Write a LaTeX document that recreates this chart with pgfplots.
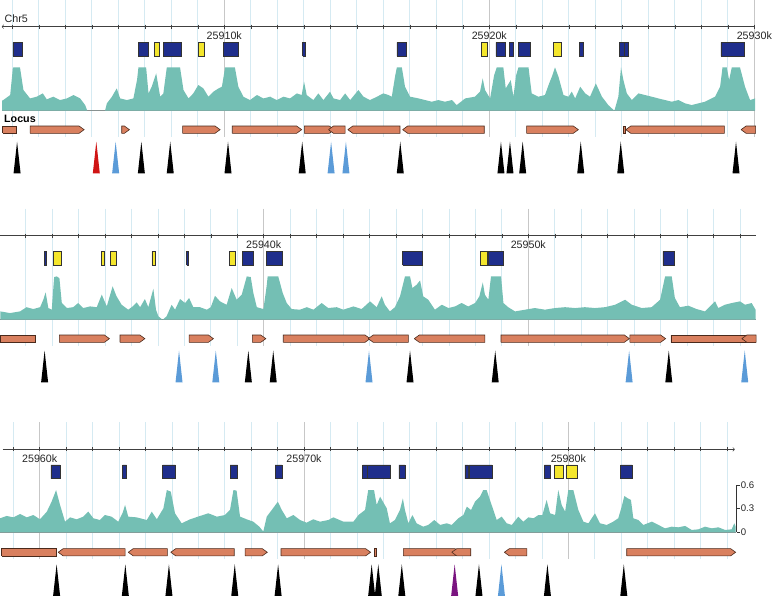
\documentclass[border=0pt]{standalone}
\usepackage{fontspec}
\setmainfont{Liberation Sans}
\usepackage{pgfplots}
\usepackage{pgfplotstable}
\pgfplotsset{compat=1.18}

\definecolor{sig}{HTML}{74BFB4}
\definecolor{boxblue}{HTML}{1F2E8C}
\definecolor{boxyel}{HTML}{F4E62C}
\definecolor{genefill}{HTML}{D9805F}
\definecolor{geneline}{HTML}{4A2A1C}
\definecolor{gridblue}{HTML}{D5EAF2}
\definecolor{tblue}{HTML}{5B9BD8}
\definecolor{tred}{HTML}{D01414}
\definecolor{tpurple}{HTML}{7A1480}

% x is kb past 25,900 kb on Chr5; y is in pixels below each row's ruler
\pgfdeclareplotmark{tri}{%
  \pgfpathmoveto{\pgfqpoint{-3.5pt}{0pt}}%
  \pgfpathlineto{\pgfqpoint{0pt}{31.6pt}}%
  \pgfpathlineto{\pgfqpoint{3.5pt}{0pt}}%
  \pgfpathclose
  \pgfusepathqfill}

\pgfplotsset{
  track/.style={
    scale only axis, y=1pt, y dir=reverse,
    ymin=-27, ymax=110, clip=false,
    axis x line=middle, axis y line=none, ytick=\empty,
    tick align=center, major tick length=4pt, minor tick length=4pt,
    every tick/.style={black!75, line width=0.5pt},
    axis line style={black!75, line width=0.6pt},
    xmajorgrids, xminorgrids,
    major grid style={black!22, line width=0.7pt},
    minor grid style={gridblue, line width=0.7pt},
    xticklabel style={font=\fontsize{10.7}{12}\selectfont, text=black!85},
  },
  tris/.style={only marks, mark=tri, color=#1, mark options={fill=#1}},
}

% unit shapes
\pgfplotstableread{
fx fy
0 0
1 0
1 1
0 1
0 0
}\boxshape
\pgfplotstableread{
fx gx fy
0 0 0
1 0 0
1 0 1
0 0 1
0 0 0
}\geneshapen
\pgfplotstableread{
fx gx fy
0 0 0
1 -1 0
1 0 0.5
1 -1 1
0 0 1
0 0 0
}\geneshaper
\pgfplotstableread{
fx gx fy
0 0 0.5
0 1 0
1 0 0
1 0 1
0 1 1
0 0 0.5
}\geneshapel

\newcommand\drawboxes[2]{%
  \pgfplotstablegetrowsof{#1}%
  \pgfmathtruncatemacro\gN{\pgfplotsretval-1}%
  \pgfplotsforeachungrouped \gI in {0,...,\gN}{%
    \pgfplotstablegetelem{\gI}{s}\of{#1}\let\gS\pgfplotsretval
    \pgfplotstablegetelem{\gI}{len}\of{#1}\let\gL\pgfplotsretval
    \edef\gTmp{\noexpand\addplot[fill=#2, draw=black!80, line width=0.5pt]
      table[x expr={\gS+\gL*\noexpand\thisrow{fx}}, y expr={29.3-13.7*\noexpand\thisrow{fy}}] \noexpand\boxshape;}%
    \gTmp}}
\newcommand\drawgenes[1]{%
  \pgfplotstablegetrowsof{#1}%
  \pgfmathtruncatemacro\gN{\pgfplotsretval-1}%
  \pgfplotsforeachungrouped \gI in {0,...,\gN}{%
    \pgfplotstablegetelem{\gI}{s}\of{#1}\let\gS\pgfplotsretval
    \pgfplotstablegetelem{\gI}{len}\of{#1}\let\gL\pgfplotsretval
    \pgfplotstablegetelem{\gI}{d}\of{#1}\let\gD\pgfplotsretval
    \pgfmathsetmacro\gT{min(0.19,\gL)}%
    \edef\gTmp{\noexpand\addplot[fill=genefill, draw=geneline, line width=0.6pt]
      table[x expr={\gS+\gL*\noexpand\thisrow{fx}+\gT*\noexpand\thisrow{gx}}, y expr={106.6-7.3*\noexpand\thisrow{fy}}] \expandafter\noexpand\csname geneshape\gD\endcsname;}%
    \gTmp}}

% ---------------- signal (value 0..0.6) ----------------
\pgfplotstableread{
kb v
1.62 0
1.62 0.13
1.66 0.136
1.92 0.2
2.02 0.54
2.04 0.553
2.29 0.553
2.42 0.264
2.67 0.157
2.92 0.179
3.15 0.221
3.30 0.145
3.55 0.179
3.80 0.136
4.06 0.157
4.31 0.2
4.56 0.157
4.75 0.072
4.83 0
5.50 0
5.57 0.094
5.76 0.179
5.94 0.285
6.07 0.157
6.32 0.136
6.57 0.157
6.71 0.4
6.76 0.553
7.05 0.553
7.14 0.221
7.26 0.306
7.43 0.477
7.58 0.179
7.70 0.221
7.83 0.553
8.33 0.553
8.46 0.264
8.65 0.157
8.83 0.221
9.02 0.328
9.21 0.285
9.40 0.179
9.59 0.243
9.78 0.285
9.91 0.306
10.03 0.553
10.40 0.553
10.53 0.306
10.72 0.179
10.97 0.136
11.23 0.2
11.48 0.157
11.73 0.179
11.98 0.136
12.23 0.179
12.48 0.157
12.74 0.221
12.92 0.2
13.01 0.37
13.11 0.2
13.36 0.136
13.55 0.221
13.74 0.136
13.99 0.243
14.12 0.157
14.37 0.136
14.56 0.221
14.75 0.136
15.06 0.264
15.25 0.179
15.50 0.136
15.76 0.179
16.00 0.221
16.20 0.2
16.32 0.179
16.45 0.45
16.51 0.553
16.70 0.553
16.82 0.306
17.01 0.179
17.33 0.157
17.58 0.136
17.83 0.115
18.08 0.136
18.33 0.115
18.59 0.136
18.77 0.072
19.09 0.157
19.46 0.179
19.65 0.243
19.75 0.413
19.84 0.264
20.03 0.157
20.18 0.45
20.28 0.553
20.53 0.553
20.62 0.285
20.81 0.391
20.91 0.179
21.01 0.45
21.10 0.553
21.48 0.553
21.60 0.221
21.85 0.179
22.10 0.2
22.26 0.35
22.36 0.434
22.48 0.553
22.61 0.434
22.80 0.2
22.99 0.179
23.11 0.243
23.24 0.157
23.43 0.306
23.62 0.221
23.80 0.179
24.02 0.349
24.25 0.179
24.49 0.072
24.72 0
24.87 0.179
24.97 0.553
25.06 0.391
25.19 0.221
25.38 0.136
25.63 0.221
25.88 0.2
26.13 0.179
26.38 0.157
26.63 0.136
26.89 0.115
27.14 0.136
27.39 0.094
27.64 0.072
27.89 0.094
28.14 0.115
28.52 0.179
28.71 0.306
28.80 0.553
28.96 0.553
29.05 0.391
29.15 0.553
29.46 0.553
29.65 0.306
29.84 0.136
30.03 0.157
30.03 0
}\sigA

\pgfplotstableread{
kb v
30.05 0
30.05 0.106
30.41 0.085
30.79 0.106
31.04 0.16
31.29 0.136
31.55 0.16
31.67 0.255
31.76 0.35
31.86 0.149
31.99 0.128
32.08 0.545
32.18 0.553
32.28 0.53
32.37 0.213
32.56 0.149
32.80 0.16
32.99 0.213
33.18 0.149
33.44 0.17
33.69 0.16
33.88 0.32
34.07 0.17
34.29 0.426
34.44 0.298
34.63 0.191
34.88 0.128
35.05 0.17
35.20 0.221
35.33 0.16
35.51 0.264
35.64 0.16
35.83 0.396
35.93 0.128
36.02 0.043
36.18 0
36.33 0.043
36.52 0.191
36.65 0.128
36.84 0.264
37.03 0.213
37.18 0.277
37.34 0.16
37.59 0.16
37.85 0.128
38.00 0.16
38.16 0.306
38.35 0.234
38.60 0.191
38.79 0.404
38.98 0.255
39.17 0.32
39.36 0.553
39.51 0.545
39.61 0.34
39.74 0.16
39.99 0.136
40.11 0.426
40.15 0.553
40.55 0.553
40.72 0.34
40.87 0.213
41.06 0.136
41.37 0.128
41.63 0.16
41.88 0.128
42.19 0.213
42.44 0.149
42.76 0.16
43.01 0.128
43.39 0.17
43.70 0.136
44.02 0.234
44.27 0.16
44.46 0.298
44.58 0.191
44.77 0.106
44.96 0.16
45.15 0.298
45.34 0.553
45.53 0.553
45.62 0.404
45.78 0.447
45.91 0.502
46.03 0.298
46.22 0.255
46.47 0.128
46.73 0.191
46.98 0.149
47.23 0.17
47.48 0.213
47.73 0.17
47.99 0.213
48.15 0.298
48.28 0.477
48.36 0.32
48.49 0.255
48.59 0.553
48.97 0.553
49.06 0.213
49.24 0.16
49.50 0.106
49.88 0.128
50.25 0.149
50.63 0.128
51.01 0.149
51.39 0.16
51.77 0.149
52.14 0.16
52.52 0.149
52.90 0.16
53.28 0.191
53.66 0.255
53.91 0.191
54.29 0.149
54.66 0.16
54.98 0.255
55.17 0.553
55.42 0.553
55.54 0.277
55.73 0.16
56.05 0.179
56.36 0.136
56.68 0.106
57.06 0.234
57.18 0.149
57.43 0.191
57.69 0.213
58.00 0.234
58.19 0.191
58.44 0.213
58.59 0.128
58.59 0
}\sigB

\pgfplotstableread{
kb v
58.50 0
58.50 0.179
58.75 0.209
59.00 0.191
59.26 0.234
59.51 0.191
59.76 0.221
60.01 0.166
60.27 0.264
60.45 0.391
60.62 0.54
60.77 0.349
60.96 0.136
61.15 0.191
61.40 0.166
61.65 0.2
61.84 0.264
62.03 0.179
62.28 0.157
62.47 0.221
62.72 0.2
62.97 0.136
63.14 0.251
63.23 0.349
63.35 0.2
63.67 0.191
64.05 0.157
64.24 0.264
64.43 0.166
64.68 0.306
64.81 0.54
64.96 0.519
65.12 0.243
65.37 0.115
65.69 0.166
66.07 0.209
66.38 0.243
66.70 0.2
67.01 0.221
67.20 0.285
67.33 0.54
67.45 0.532
67.58 0.2
67.83 0.166
68.08 0.136
68.31 0.072
68.46 0.01
68.59 0.2
68.78 0.285
69.01 0.391
69.16 0.285
69.35 0.179
69.60 0.221
69.85 0.157
70.10 0.123
70.35 0.166
70.61 0.136
70.92 0.157
71.11 0.191
71.49 0.136
71.87 0.136
72.06 0.221
72.31 0.285
72.43 0.54
72.65 0.54
72.75 0.349
72.88 0.455
73.13 0.306
73.25 0.115
73.44 0.157
73.63 0.285
73.74 0.434
73.82 0.285
73.95 0.115
74.10 0.221
74.26 0.115
74.51 0.072
74.70 0.094
74.93 0.157
75.15 0.094
75.40 0.115
75.59 0.094
75.84 0.179
76.03 0.221
76.16 0.328
76.32 0.285
76.47 0.391
76.66 0.455
76.78 0.54
76.91 0.54
77.10 0.349
77.29 0.157
77.48 0.2
77.67 0.115
77.86 0.094
78.11 0.2
78.30 0.136
78.49 0.191
78.68 0.179
78.87 0.221
79.02 0.221
79.18 0.413
79.31 0.243
79.50 0.221
79.62 0.54
79.75 0.349
79.88 0.264
80.00 0.54
80.19 0.54
80.38 0.285
80.57 0.136
80.76 0.115
81.01 0.243
81.20 0.115
81.45 0.094
81.70 0.136
81.89 0.179
82.02 0.328
82.12 0.464
82.25 0.434
82.37 0.413
82.46 0.179
82.65 0.157
82.84 0.094
83.16 0.136
83.41 0.094
83.66 0.051
83.91 0.072
84.16 0.064
84.42 0.081
84.67 0.03
84.92 0.038
85.17 0.072
85.43 0.051
85.68 0.064
85.93 0.03
86.18 0.038
86.28 0.115
86.33 0.072
86.33 0
}\sigC

% ---------------- feature boxes: start, length (kb) ----------------
\pgfplotstableread{
s len
2.02 0.36
6.75 0.37
7.70 0.67
9.96 0.55
12.96 0.11
16.51 0.34
20.25 0.37
20.76 0.15
21.09 0.46
23.40 0.16
24.91 0.18
25.09 0.16
28.74 0.87
}\boxAb
\pgfplotstableread{
s len
7.35 0.21
9.01 0.22
19.69 0.24
22.42 0.29
}\boxAy
\pgfplotstableread{
s len
31.70 0.08
37.09 0.04
39.18 0.42
40.09 0.60
45.25 0.73
48.47 0.57
55.09 0.41
}\boxBb
\pgfplotstableread{
s len
32.05 0.29
33.86 0.10
34.20 0.22
35.77 0.13
38.70 0.24
48.18 0.25
}\boxBy
\pgfplotstableread{
s len
60.42 0.35
63.14 0.15
64.65 0.48
67.20 0.29
68.91 0.25
72.22 0.18
72.40 0.88
73.59 0.23
76.09 0.13
76.24 0.87
79.09 0.23
81.98 0.43
}\boxCb
\pgfplotstableread{
s len
79.47 0.32
79.91 0.41
}\boxCy

% ---------------- genes: start, length, d (n none, r right, l left) ----------------
\pgfplotstableread{
s len d
1.64 0.50 n
2.67 2.04 r
6.13 0.29 r
8.43 1.41 r
10.30 2.62 r
13.02 1.13 r
13.93 0.63 l
14.66 1.97 l
16.73 3.08 l
21.41 1.95 r
25.06 0.09 n
25.15 3.72 l
29.50 0.55 l
}\geneA
\pgfplotstableread{
s len d
30.05 1.33 n
32.28 1.89 r
34.57 0.94 r
37.18 0.92 r
39.57 0.51 r
40.74 3.28 r
43.95 1.52 l
45.69 2.67 l
48.97 4.85 r
53.84 1.35 r
55.39 3.20 n
58.07 0.54 l
}\geneB
\pgfplotstableread{
s len d
58.56 2.05 n
60.70 2.53 l
63.35 1.48 l
64.96 2.40 l
67.77 0.84 r
69.13 3.39 r
72.66 0.09 n
73.76 2.14 r
75.59 0.72 l
77.58 0.85 l
82.21 4.12 r
}\geneC

\begin{document}
\begin{tikzpicture}
\useasboundingbox (0,0) rectangle (774pt,-598pt);

% ===== row 1 =====
\begin{axis}[track, x=26.5pt, xmin=1.6, xmax=30, at={(1.7pt,0.3pt)}, anchor=north west,
  xtick={10,20,30}, xticklabels={25910k,25920k,25930k},
  minor xtick={2,3,4,5,6,7,8,9,11,12,13,14,15,16,17,18,19,21,22,23,24,25,26,27,28,29},
  x axis line style={<-}]
\addplot[black!45, line width=0.6pt] coordinates {(1.62,84) (30.03,84)};
\addplot[fill=sig, draw=none] table[x=kb, y expr={84-78.3*\thisrow{v}}] \sigA;
\drawboxes{\boxAb}{boxblue}
\drawboxes{\boxAy}{boxyel}
\drawgenes{\geneA}
\addplot[tris=black] coordinates {(2.18,146.6) (6.87,146.6) (7.96,146.6) (10.14,146.6) (12.94,146.6) (16.64,146.6) (20.44,146.6) (20.78,146.6) (21.26,146.6) (23.45,146.6) (24.96,146.6) (29.31,146.6)};
\addplot[tris=tred] coordinates {(5.17,146.6)};
\addplot[tris=tblue] coordinates {(5.90,146.6) (14.03,146.6) (14.59,146.6)};
\end{axis}

% ===== row 2 =====
\begin{axis}[track, x=26.46pt, xmin=30.05, xmax=58.6, at={(0.42pt,-208.7pt)}, anchor=north west,
  xtick={40,50}, xticklabels={25940k,25950k},
  minor xtick={31,32,33,34,35,36,37,38,39,41,42,43,44,45,46,47,48,49,51,52,53,54,55,56,57,58},
  x axis line style={-}]
\addplot[black!45, line width=0.6pt] coordinates {(30.05,84) (58.59,84)};
\addplot[fill=sig, draw=none] table[x=kb, y expr={84-78.3*\thisrow{v}}] \sigB;
\drawboxes{\boxBb}{boxblue}
\drawboxes{\boxBy}{boxyel}
\drawgenes{\geneB}
\addplot[tris=black] coordinates {(31.72,146.6) (39.42,146.6) (40.36,146.6) (45.53,146.6) (48.75,146.6) (55.31,146.6)};
\addplot[tris=tblue] coordinates {(36.80,146.6) (38.19,146.6) (43.98,146.6) (53.81,146.6) (58.18,146.6)};
\end{axis}

% ===== row 3 =====
\begin{axis}[track, x=26.43pt, xmin=58.6, xmax=86.3, at={(2.7pt,-422.3pt)}, anchor=north west,
  xtick={60,70,80}, xticklabels={25960k,25970k,25980k},
  minor xtick={59,61,62,63,64,65,66,67,68,69,71,72,73,74,75,76,77,78,79,81,82,83,84,85,86},
  x axis line style={->}]
\addplot[black!45, line width=0.6pt] coordinates {(58.5,83) (86.33,83)};
\addplot[fill=sig, draw=none] table[x=kb, y expr={83-78.3*\thisrow{v}}] \sigC;
\drawboxes{\boxCb}{boxblue}
\drawboxes{\boxCy}{boxyel}
\drawgenes{\geneC}
\addplot[tris=black] coordinates {(60.64,146.6) (63.24,146.6) (64.89,146.6) (67.38,146.6) (69.02,146.6) (72.56,146.6) (72.81,146.6) (73.70,146.6) (76.62,146.6) (79.21,146.6) (82.10,146.6)};
\addplot[tris=tpurple] coordinates {(75.70,146.6)};
\addplot[tris=tblue] coordinates {(77.47,146.6)};
\end{axis}

% signal scale of row 3
\begin{axis}[scale only axis, width=4pt, height=47.3pt,
  at={(736.7pt,-532.3pt)}, anchor=south east,
  xmin=0, xmax=1, ymin=0, ymax=0.6, hide x axis, axis y line*=right,
  ytick={0,0.3,0.6}, yticklabels={0,0.3,0.6},
  tick align=outside, major tick length=3pt,
  axis line style={black!80, line width=0.6pt},
  every tick/.style={black!80, line width=0.6pt},
  yticklabel style={font=\fontsize{9.6}{11}\selectfont, text=black!85, inner sep=1pt}]
\addplot[draw=none] coordinates {(0,0)};
\end{axis}

\node[anchor=base west, inner sep=0, font=\fontsize{10.7}{12}\selectfont, text=black!85] at (4.5pt,-22.7pt) {Chr5};
\node[anchor=base west, inner sep=0, font=\fontsize{10.7}{12}\selectfont\bfseries] at (4pt,-122.7pt) {Locus};
\end{tikzpicture}
\end{document}
